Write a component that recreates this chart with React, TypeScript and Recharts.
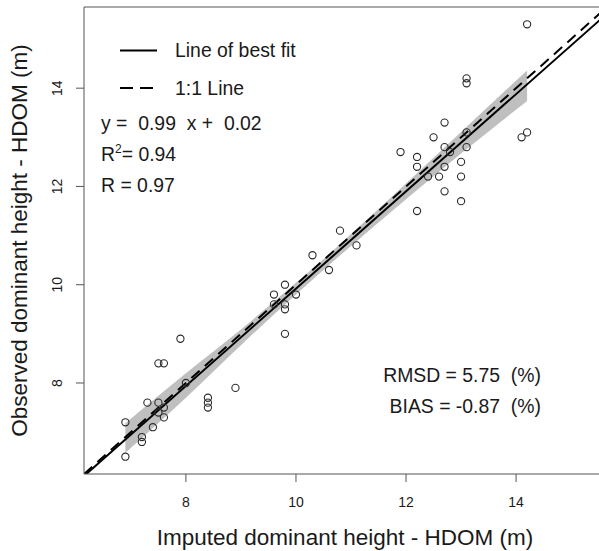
import React from "react";
import {
  ComposedChart,
  XAxis,
  YAxis,
  Scatter,
  Area,
  ReferenceLine,
} from "recharts";

// imputed (x) vs observed (y) HDOM, metres
const imputed = [
  6.9, 7.3, 7.5, 7.6, 7.5, 7.6, 7.4, 7.2, 7.2, 6.9, 7.5, 7.6, 7.9, 8.0, 8.9,
  8.4, 8.4, 8.4, 10.8, 11.1, 10.3, 10.6, 9.8, 9.6, 10.0, 9.6, 9.8, 9.8, 9.8,
  12.7, 12.5, 14.2, 14.1, 13.1, 12.7, 13.1, 12.8, 11.9, 12.2, 12.2, 12.7, 13.0,
  12.4, 12.6, 13.0, 12.7, 13.0, 12.2, 14.2, 13.1, 13.1,
];
const observed = [
  7.2, 7.6, 7.6, 7.5, 7.4, 7.3, 7.1, 6.9, 6.8, 6.5, 8.4, 8.4, 8.9, 8.0, 7.9,
  7.7, 7.6, 7.5, 11.1, 10.8, 10.6, 10.3, 10.0, 9.8, 9.8, 9.6, 9.6, 9.5, 9.0,
  13.3, 13.0, 13.1, 13.0, 13.1, 12.8, 12.8, 12.7, 12.7, 12.6, 12.4, 12.4, 12.5,
  12.2, 12.2, 12.2, 11.9, 11.7, 11.5, 15.3, 14.2, 14.1,
];

// confidence band of the fit
const bandX = [6.9, 8, 9, 10, 10.6, 11, 12, 13, 14.2];
const bandLo = [6.58, 7.7, 8.77, 9.8, 10.4, 10.79, 11.74, 12.67, 13.74];
const bandHi = [7.18, 8.2, 9.09, 10.04, 10.62, 11.03, 12.06, 13.11, 14.36];

const slope = 0.99;
const intercept = 0.02;
const ticks = [8, 10, 12, 14];
const lo = 6.148;
const hi = 15.652;

const points = imputed.map((x, i) => ({ x, y: observed[i] }));
const band = bandX.map((x, i) => ({ x, y: [bandLo[i], bandHi[i]] }));

const font = "'Liberation Sans', Arial, sans-serif";
const ink = "#1a1a1a";
const frame = "#555";
const sp = "\u00a0"; // keep the double gaps R puts in these labels

const Ring = (props: any) => (
  <circle
    cx={props.cx}
    cy={props.cy}
    r={3.6}
    fill="none"
    stroke="#2b2b2b"
    strokeWidth={1.1}
  />
);

const XTick = (props: any) => (
  <text
    x={props.x}
    y={507}
    textAnchor="middle"
    fontSize={14}
    fontFamily={font}
    fill={ink}
  >
    {props.payload.value}
  </text>
);

const YTick = (props: any) => (
  <text
    x={62}
    y={props.y}
    transform={`rotate(-90 62 ${props.y})`}
    textAnchor="middle"
    fontSize={14}
    fontFamily={font}
    fill={ink}
  >
    {props.payload.value}
  </text>
);

const Notes = () => (
  <svg
    width={599}
    height={551}
    style={{ position: "absolute", left: 0, top: 0, pointerEvents: "none" }}
    fontFamily={font}
    fill={ink}
  >
    <line x1={120} y1={50.5} x2={157} y2={50.5} stroke="#000" strokeWidth={2} />
    <line
      x1={120}
      y1={88}
      x2={157}
      y2={88}
      stroke="#000"
      strokeWidth={2}
      strokeDasharray="13 7"
    />
    <g fontSize={19.4}>
      <text x={175} y={57}>Line of best fit</text>
      <text x={175} y={95}>1:1 Line</text>
      <text x={101} y={129.5}>
        {`y =${sp} 0.99${sp} x +${sp} 0.02`}
      </text>
      <text x={101} y={161}>
        R<tspan fontSize={12} dy={-8}>2</tspan>
        <tspan dy={8}>= 0.94</tspan>
      </text>
      <text x={101} y={192}>R = 0.97</text>
      <text x={541} y={381.5} textAnchor="end">
        {`RMSD = 5.75${sp} (%)`}
      </text>
      <text x={541} y={413} textAnchor="end">
        {`BIAS = -0.87${sp} (%)`}
      </text>
    </g>
    <text x={345} y={545} fontSize={22.5} textAnchor="middle">
      Imputed dominant height - HDOM (m)
    </text>
    <text
      x={26.5}
      y={240.5}
      fontSize={22.5}
      textAnchor="middle"
      transform="rotate(-90 26.5 240.5)"
    >
      Observed dominant height - HDOM (m)
    </text>
  </svg>
);

export default function App() {
  return (
    <div
      style={{
        position: "absolute",
        left: 0,
        top: 0,
        width: 599,
        height: 551,
        overflow: "hidden",
        background: "#fff",
      }}
    >
      <ComposedChart
        width={607}
        height={551}
        margin={{ top: 7, right: 0, bottom: 0, left: 0 }}
      >
        <XAxis
          type="number"
          dataKey="x"
          domain={[lo, hi]}
          ticks={ticks}
          allowDataOverflow
          height={77}
          tickSize={8}
          stroke={frame}
          tick={<XTick />}
        />
        <YAxis
          type="number"
          dataKey="y"
          domain={[lo, hi]}
          ticks={ticks}
          allowDataOverflow
          width={84}
          tickSize={8}
          stroke={frame}
          tick={<YTick />}
        />
        <ReferenceLine y={hi} stroke={frame} strokeWidth={1} />
        <Area
          data={band}
          dataKey="y"
          type="monotone"
          stroke="none"
          fill="#bfbfbf"
          fillOpacity={1}
          isAnimationActive={false}
        />
        <Scatter
          data={points}
          dataKey="y"
          shape={<Ring />}
          isAnimationActive={false}
        />
        <ReferenceLine
          segment={[
            { x: lo, y: lo },
            { x: hi, y: hi },
          ]}
          stroke="#000"
          strokeWidth={2}
          strokeDasharray="11 7"
          ifOverflow="hidden"
        />
        <ReferenceLine
          segment={[
            { x: lo, y: slope * lo + intercept },
            { x: hi, y: slope * hi + intercept },
          ]}
          stroke="#000"
          strokeWidth={2}
          ifOverflow="hidden"
        />
      </ComposedChart>
      <Notes />
    </div>
  );
}
